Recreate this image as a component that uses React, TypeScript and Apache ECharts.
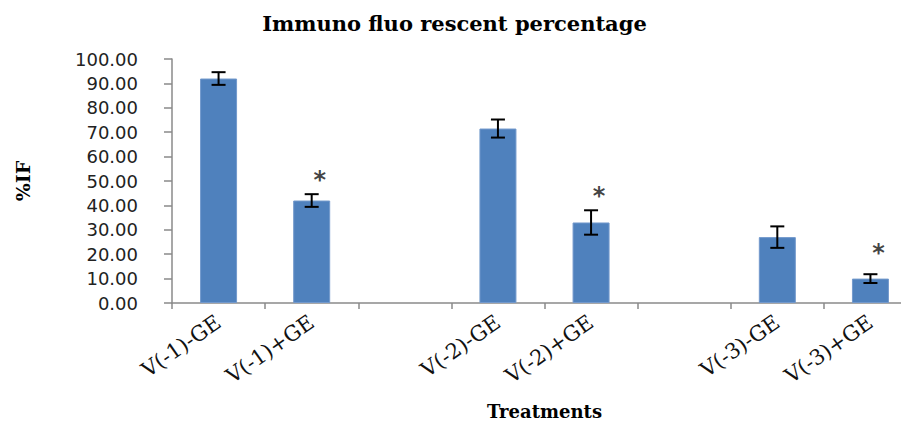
import React, { useEffect, useRef } from "react";
import * as echarts from "echarts";

const categories = ["V(-1)-GE", "V(-1)+GE", "", "V(-2)-GE", "V(-2)+GE", "", "V(-3)-GE", "V(-3)+GE"];
const values: (number | null)[] = [92, 42, null, 71.5, 33, null, 27, 10];
const errors: (number | null)[] = [2.6, 2.6, null, 3.7, 5, null, 4.4, 1.8];
const starValues: (number | null)[] = [null, 50.5, null, null, 44, null, null, 20.5];
const yTicks = { min: 0, max: 100, interval: 10 };

export default function App() {
  const ref = useRef<HTMLDivElement>(null);
  useEffect(() => {
    if (!ref.current) return;
    const chart = echarts.init(ref.current, null, { renderer: "svg" });
    const errData = values
      .map((v, i) => (v == null || errors[i] == null ? null : [i, v - (errors[i] as number), v + (errors[i] as number)]))
      .filter((d) => d != null);
    chart.setOption({
      animation: false,
      title: {
        text: "Immuno fluo rescent percentage",
        left: "center",
        top: 8,
        textStyle: { fontFamily: "DejaVu Serif", fontWeight: "bold", fontSize: 21, color: "#000" },
      },
      grid: { left: 172, top: 59, bottom: 120, right: -8, outerBoundsMode: "none", containLabel: false },
      xAxis: {
        type: "category",
        data: categories,
        name: "Treatments",
        nameLocation: "middle",
        nameGap: 99,
        nameTextStyle: { fontFamily: "DejaVu Serif", fontWeight: "bold", fontSize: 18, color: "#000" },
        axisLine: { lineStyle: { color: "#8a8a8a", width: 1.5 } },
        axisTick: { show: true, length: 6, lineStyle: { color: "#8a8a8a", width: 1.5 } },
        axisLabel: {
          interval: 0,
          rotate: 35,
          margin: 17,
          fontFamily: "DejaVu Serif",
          fontSize: 21,
          color: "#111",
        },
      },
      yAxis: {
        type: "value",
        min: yTicks.min,
        max: yTicks.max,
        interval: yTicks.interval,
        name: "%IF",
        nameLocation: "middle",
        nameGap: 140,
        nameRotate: 90,
        nameTextStyle: { fontFamily: "DejaVu Serif", fontWeight: "bold", fontSize: 19, color: "#000" },
        splitLine: { show: false },
        axisLine: { show: true, lineStyle: { color: "#8a8a8a", width: 1.5 } },
        axisTick: { show: true, length: 8, lineStyle: { color: "#8a8a8a", width: 1.5 } },
        axisLabel: {
          margin: 34,
          fontFamily: "DejaVu Sans",
          fontSize: 18,
          color: "#222",
          formatter: (v: number) => v.toFixed(2),
        },
      },
      series: [
        {
          type: "bar",
          data: values,
          barWidth: 37,
          itemStyle: { color: "#4F81BD", borderColor: "#7399cc", borderWidth: 1 },
          z: 2,
        },
        {
          type: "custom",
          data: errData,
          z: 3,
          renderItem: (params: any, api: any) => {
            const x = api.value(0);
            const lo = api.coord([x, api.value(1)]);
            const hi = api.coord([x, api.value(2)]);
            const hw = 7;
            const style = { stroke: "#000", lineWidth: 2 };
            return {
              type: "group",
              children: [
                { type: "line", shape: { x1: lo[0], y1: lo[1], x2: hi[0], y2: hi[1] }, style },
                { type: "line", shape: { x1: lo[0] - hw, y1: lo[1], x2: lo[0] + hw, y2: lo[1] }, style },
                { type: "line", shape: { x1: hi[0] - hw, y1: hi[1], x2: hi[0] + hw, y2: hi[1] }, style },
              ],
            };
          },
        },
        {
          type: "scatter",
          data: starValues,
          symbolSize: 1,
          itemStyle: { color: "transparent" },
          z: 4,
          label: {
            show: true,
            position: "inside",
            formatter: "*",
            offset: [8, 0],
            fontFamily: "DejaVu Sans",
            fontWeight: "bold",
            fontSize: 24,
            color: "#111",
          },
        },
      ],
    });
    return () => chart.dispose();
  }, []);
  return <div ref={ref} style={{ width: 909, height: 423, marginLeft: -8, marginTop: -8 }} />;
}
